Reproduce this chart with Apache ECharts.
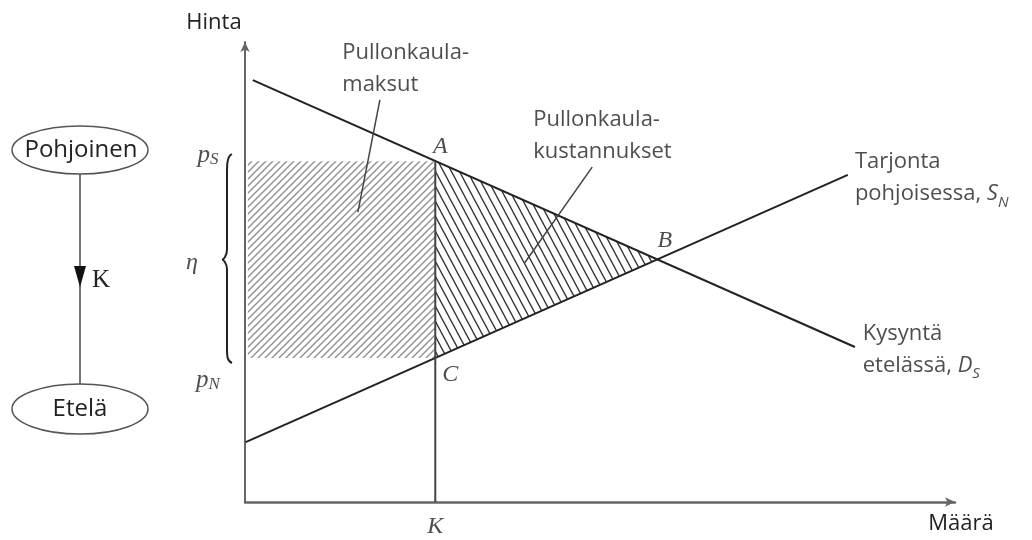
<!DOCTYPE html>
<html lang="fi">
<head>
<meta charset="UTF-8">
<title>Pullonkaula</title>
<script src="https://cdn.jsdelivr.net/npm/echarts@6/dist/echarts.min.js"></script>
<style>
    html, body { margin: 0; padding: 0; background: #fff; }
    #chart { width: 1032px; height: 540px; }
</style>
</head>
<body>
<div id="chart"></div>
<script>
// values, quantity on x (0-100), price on y (0-100)
const demandLine = [[1.1, 91.7], [85.9, 33.7]];
const supplyLine = [[0.1, 13.0], [84.9, 71.1]];
const kValue = 26.8;
const pS = 74.1;
const pN = 31.3;
const hatchLeft = 0.4;
const pointNames = ['A', 'B', 'C'];
const pointCoords = [[26.8, 74.1], [58.0, 52.8], [26.8, 31.3]];
const leaderMaksut = [[19.0, 87.4], [15.9, 63.0]];
const leaderKustannukset = [[48.9, 72.8], [39.4, 52.0]];
const noteTexts = [
    'Pullonkaula-\nmaksut',
    'Pullonkaula-\nkustannukset',
    '{t|Tarjonta}\n{t|pohjoisessa, }{i|S}{sub|N}',
    '{t|Kysyntä}\n{t|etelässä, }{i|D}{sub|S}'
];
const noteAnchors = [[13.7, 94.1], [40.6, 79.6], [85.9, 70.4], [87.0, 33.2]];

const SANS = '"Open Sans", sans-serif';
const SERIF = '"Liberation Serif", "DejaVu Serif", serif';
const INK = '#222';

// hatch tiles
function hatch(w, h, color, lw, dir) {
    const c = document.createElement('canvas');
    c.width = w; c.height = h;
    const g = c.getContext('2d');
    g.strokeStyle = color;
    g.lineWidth = lw;
    g.beginPath();
    if (dir === 'up') {
        for (const k of [0, 1, 2]) {
            g.moveTo(k * w + 2 * w, -2 * h);
            g.lineTo(k * w - 2 * w, 2 * h);
        }
    } else {
        for (const k of [-1, 0, 1]) {
            g.moveTo(k * w - 2 * w, -2 * h);
            g.lineTo(k * w + 2 * w, 2 * h);
        }
    }
    g.stroke();
    return c;
}
const grayHatch = hatch(7, 7, '#8c8c8c', 1.3, 'up');
const darkHatch = hatch(8, 15, '#333', 1.3, 'down');

function polygonSeries(points, tile) {
    return {
        type: 'custom',
        data: [0],
        silent: true,
        z: 1,
        renderItem: function (params, api) {
            return {
                type: 'polygon',
                shape: { points: points.map(p => api.coord(p)) },
                style: { fill: { image: tile, repeat: 'repeat' }, stroke: null }
            };
        }
    };
}

function lineSeries(data, color, width) {
    return {
        type: 'line',
        data: data,
        symbol: 'none',
        silent: true,
        z: 3,
        lineStyle: { color: color, width: width }
    };
}

function textSeries(items, labelStyle) {
    return {
        type: 'scatter',
        symbolSize: 1,
        silent: true,
        z: 5,
        itemStyle: { color: 'rgba(0,0,0,0)' },
        data: items,
        label: Object.assign({ show: true, position: 'inside', formatter: '{b}' }, labelStyle)
    };
}

const serifLabel = { fontFamily: SERIF, fontStyle: 'italic', fontSize: 24, color: INK };
const pointOffsets = [[5, -14], [8, -18], [15, 17]];

const chart = echarts.init(document.getElementById('chart'));
chart.setOption({
    animation: false,
    grid: { left: 245, right: 77, top: 42, bottom: 38 },
    xAxis: {
        type: 'value', min: 0, max: 100,
        axisLine: { show: true, symbol: ['none', 'arrow'], symbolSize: [7, 10], lineStyle: { color: '#666', width: 2.5 } },
        axisTick: { show: false }, axisLabel: { show: false }, splitLine: { show: false },
        name: 'Määrä', nameLocation: 'end', nameGap: 6,
        nameTextStyle: { fontFamily: SANS, fontSize: 22, color: INK, align: 'center', verticalAlign: 'top', lineHeight: 26, padding: [9, 0, 0, 0] }
    },
    yAxis: {
        type: 'value', min: 0, max: 100,
        axisLine: { show: true, symbol: ['none', 'arrow'], symbolSize: [7, 10], lineStyle: { color: '#666', width: 2 } },
        axisTick: { show: false }, axisLabel: { show: false }, splitLine: { show: false },
        name: 'Hinta', nameLocation: 'end', nameGap: 6,
        nameTextStyle: { fontFamily: SANS, fontSize: 22, color: INK, align: 'center', lineHeight: 26, padding: [0, 62, 0, 0] }
    },
    graphic: [
        { type: 'line', shape: { x1: 80, y1: 174, x2: 80, y2: 384 }, style: { stroke: '#777', lineWidth: 2 } },
        { type: 'polygon', shape: { points: [[74, 266], [86, 266], [80, 287]] }, style: { fill: '#111' } },
        { type: 'text', x: 101, y: 280, style: { text: 'K', font: '25px ' + SERIF, fill: INK, align: 'center', verticalAlign: 'middle' } },
        { type: 'ellipse', shape: { cx: 80, cy: 150, rx: 68, ry: 24 }, style: { fill: '#fff', stroke: '#555', lineWidth: 1.5 } },
        { type: 'text', x: 81, y: 150, style: { text: 'Pohjoinen', font: '24px ' + SANS, fill: INK, align: 'center', verticalAlign: 'middle' } },
        { type: 'ellipse', shape: { cx: 80, cy: 409, rx: 68, ry: 25 }, style: { fill: '#fff', stroke: '#555', lineWidth: 1.5 } },
        { type: 'text', x: 80, y: 409, style: { text: 'Etelä', font: '24px ' + SANS, fill: INK, align: 'center', verticalAlign: 'middle' } }
    ],
    series: [
        polygonSeries([[hatchLeft, pN], [kValue, pN], [kValue, pS], [hatchLeft, pS]], grayHatch),
        polygonSeries(pointCoords, darkHatch),
        lineSeries(demandLine, '#222', 2),
        lineSeries(supplyLine, '#222', 2),
        lineSeries([[kValue, 0], [kValue, pS]], '#444', 2),
        lineSeries(leaderMaksut, '#444', 1.5),
        lineSeries(leaderKustannukset, '#444', 1.5),
        // the curly brace between pS and pN
        {
            type: 'custom',
            data: [0],
            silent: true,
            z: 3,
            renderItem: function (params, api) {
                const t = api.coord([0, pS]);
                const b = api.coord([0, pN]);
                const xa = t[0] - 13, xm = t[0] - 18, xt = t[0] - 23;
                const ym = (t[1] + b[1]) / 2;
                const d = 'M' + xa + ',' + (t[1] - 7) +
                    ' C' + xm + ',' + (t[1] - 5) + ' ' + xm + ',' + (t[1] + 4) + ' ' + xm + ',' + (t[1] + 12) +
                    ' L' + xm + ',' + (ym - 10) +
                    ' C' + xm + ',' + (ym - 3) + ' ' + (xt + 1) + ',' + ym + ' ' + xt + ',' + ym +
                    ' C' + (xt + 1) + ',' + ym + ' ' + xm + ',' + (ym + 3) + ' ' + xm + ',' + (ym + 10) +
                    ' L' + xm + ',' + (b[1] - 10) +
                    ' C' + xm + ',' + (b[1] - 2) + ' ' + xm + ',' + (b[1] + 3) + ' ' + xa + ',' + (b[1] + 5);
                return { type: 'path', shape: { pathData: d }, style: { stroke: '#222', fill: null, lineWidth: 2 } };
            }
        },
        textSeries(pointCoords.map((c, i) => ({ value: c, name: pointNames[i], label: { offset: pointOffsets[i] } })), serifLabel),
        textSeries([{ value: [kValue, 0], name: 'K', label: { offset: [0, 25] } }], serifLabel),
        textSeries([
            { value: [0, pS], name: 'pS', label: { offset: [-37, -6] } },
            { value: [0, pN], name: 'pN', label: { offset: [-37, 22] } }
        ], {
            formatter: function (p) { return '{p|p}{s|' + p.name.slice(1) + '}'; },
            rich: {
                p: { fontFamily: SERIF, fontStyle: 'italic', fontSize: 25, color: INK, lineHeight: 26 },
                s: { fontFamily: SERIF, fontStyle: 'italic', fontSize: 17, color: INK, lineHeight: 18, verticalAlign: 'bottom' }
            }
        }),
        textSeries([{ value: [0, (pS + pN) / 2], name: 'η', label: { offset: [-53, 3] } }], serifLabel),
        textSeries(noteTexts.map((t, i) => ({ value: noteAnchors[i], name: t })), {
            align: 'left', verticalAlign: 'middle',
            fontFamily: SANS, fontSize: 22, color: INK, lineHeight: 32,
            rich: {
                t: { fontFamily: SANS, fontSize: 22, color: INK, lineHeight: 32 },
                i: { fontFamily: SANS, fontStyle: 'italic', fontSize: 22, color: INK, lineHeight: 32 },
                sub: { fontFamily: SANS, fontStyle: 'italic', fontSize: 15, color: INK, lineHeight: 16, verticalAlign: 'bottom' }
            }
        })
    ]
});
</script>
</body>
</html>
